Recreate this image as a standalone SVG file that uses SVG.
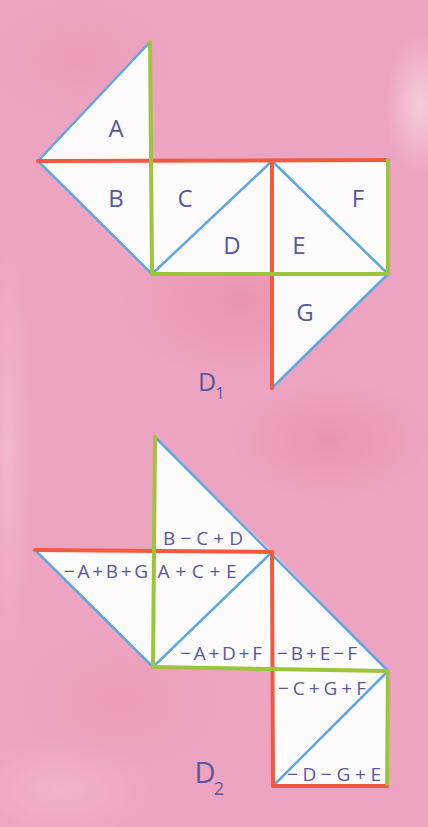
<svg xmlns="http://www.w3.org/2000/svg" width="428" height="827" viewBox="0 0 428 827">
<defs>
<radialGradient id="lite" cx="0.5" cy="0.5" r="0.5"><stop offset="0" stop-color="#f7d6e3" stop-opacity="0.8"/><stop offset="1" stop-color="#f7d6e3" stop-opacity="0"/></radialGradient>
<radialGradient id="dark" cx="0.5" cy="0.5" r="0.5"><stop offset="0" stop-color="#e6859f" stop-opacity="0.5"/><stop offset="1" stop-color="#e6859f" stop-opacity="0"/></radialGradient>
<style>
.tri{fill:#fdfbfb;stroke:none}
.blue{stroke:#5ea7e2;stroke-width:2.5;fill:none;stroke-linecap:round}
.red{stroke:#ef5a40;stroke-width:4;fill:none;stroke-linecap:round}
.green{stroke:#9cc53c;stroke-width:4;fill:none;stroke-linecap:round}
.lbl{font-family:"Open Sans","Liberation Sans",sans-serif;fill:#5659a0;text-anchor:middle}
.big{font-size:24px}
.sm{font-size:19px}
</style>
</defs>
<rect width="428" height="827" fill="#eda4c0"/>
<ellipse cx="420" cy="105" rx="35" ry="70" fill="url(#lite)"/>
<ellipse cx="8" cy="450" rx="25" ry="200" fill="url(#lite)" opacity="0.5"/>
<ellipse cx="60" cy="790" rx="90" ry="50" fill="url(#lite)" opacity="0.4"/>
<ellipse cx="240" cy="300" rx="120" ry="80" fill="url(#dark)"/>
<ellipse cx="330" cy="440" rx="100" ry="60" fill="url(#dark)"/>
<ellipse cx="80" cy="60" rx="90" ry="60" fill="url(#dark)" opacity="0.5"/>
<ellipse cx="120" cy="700" rx="100" ry="70" fill="url(#dark)" opacity="0.5"/>

<g id="D1">
<g id="A"><polygon class="tri" points="150,42 38,161 151,161"/><text class="lbl big" x="116" y="137">A</text></g>
<g id="B"><polygon class="tri" points="38,161 151,161 152,274"/><text class="lbl big" x="116" y="207">B</text></g>
<g id="C"><polygon class="tri" points="151,161 272,161 152,274"/><text class="lbl big" x="185" y="207">C</text></g>
<g id="D"><polygon class="tri" points="272,161 152,274 272,274"/><text class="lbl big" x="232" y="254">D</text></g>
<g id="E"><polygon class="tri" points="272,161 272,274 388,274"/><text class="lbl big" x="299" y="254">E</text></g>
<g id="F"><polygon class="tri" points="272,161 388,160 388,274"/><text class="lbl big" x="358" y="207">F</text></g>
<g id="G"><polygon class="tri" points="272,274 388,274 272,388"/><text class="lbl big" x="305" y="321">G</text></g>
<g id="D1label"><text class="lbl" style="font-size:25px" x="207" y="391">D</text><text class="lbl" style="font-size:16px" x="220" y="399">1</text></g>
</g>

<g id="D2">
<g id="t1"><polygon class="tri" points="155,437 155,551 272,552"/><text class="lbl sm" x="203" y="545" textLength="80" lengthAdjust="spacing">B−C+D</text></g>
<g id="t2"><polygon class="tri" points="35,550 155,551 153,667"/><text class="lbl sm" x="106" y="578" textLength="84" lengthAdjust="spacing">−A+B+G</text></g>
<g id="t3"><polygon class="tri" points="155,551 272,552 153,667"/><text class="lbl sm" x="197" y="578" textLength="79" lengthAdjust="spacing">A+C+E</text></g>
<g id="t4"><polygon class="tri" points="272,552 153,667 272,669"/><text class="lbl sm" x="221" y="660" textLength="82" lengthAdjust="spacing">−A+D+F</text></g>
<g id="t5"><polygon class="tri" points="272,552 272,669 388,671"/><text class="lbl sm" x="317" y="660" textLength="80" lengthAdjust="spacing">−B+E−F</text></g>
<g id="t6"><polygon class="tri" points="272,669 388,671 273,786"/><text class="lbl sm" x="322" y="695" textLength="88" lengthAdjust="spacing">−C+G+F</text></g>
<g id="t7"><polygon class="tri" points="388,671 273,786 387,786"/><text class="lbl sm" x="334" y="781" textLength="94" lengthAdjust="spacing">−D−G+E</text></g>
<g id="D2label"><text class="lbl" style="font-size:29px" x="205" y="783">D</text><text class="lbl" style="font-size:18px" x="219" y="795">2</text></g>
</g>

<g id="connectors">
<line class="blue" x1="150" y1="42" x2="38" y2="161"/>
<line class="blue" x1="38" y1="161" x2="152" y2="274"/>
<line class="blue" x1="152" y1="274" x2="272" y2="161"/>
<line class="blue" x1="272" y1="161" x2="388" y2="274"/>
<line class="blue" x1="388" y1="274" x2="272" y2="388"/>
<line class="red" x1="38" y1="161" x2="388" y2="160"/>
<line class="red" x1="272" y1="161" x2="272" y2="388"/>
<line class="green" x1="150" y1="42" x2="152" y2="274"/>
<line class="green" x1="152" y1="274" x2="388" y2="274"/>
<line class="green" x1="388" y1="160" x2="388" y2="274"/>

<line class="blue" x1="35" y1="550" x2="153" y2="667"/>
<line class="blue" x1="153" y1="667" x2="272" y2="552"/>
<line class="blue" x1="155" y1="437" x2="388" y2="671"/>
<line class="blue" x1="388" y1="671" x2="273" y2="786"/>
<line class="red" x1="35" y1="550" x2="272" y2="552"/>
<line class="red" x1="272" y1="552" x2="273" y2="786"/>
<line class="red" x1="273" y1="786" x2="387" y2="786"/>
<line class="green" x1="155" y1="437" x2="153" y2="667"/>
<line class="green" x1="153" y1="667" x2="388" y2="671"/>
<line class="green" x1="388" y1="671" x2="387" y2="784"/>
</g>
</svg>
